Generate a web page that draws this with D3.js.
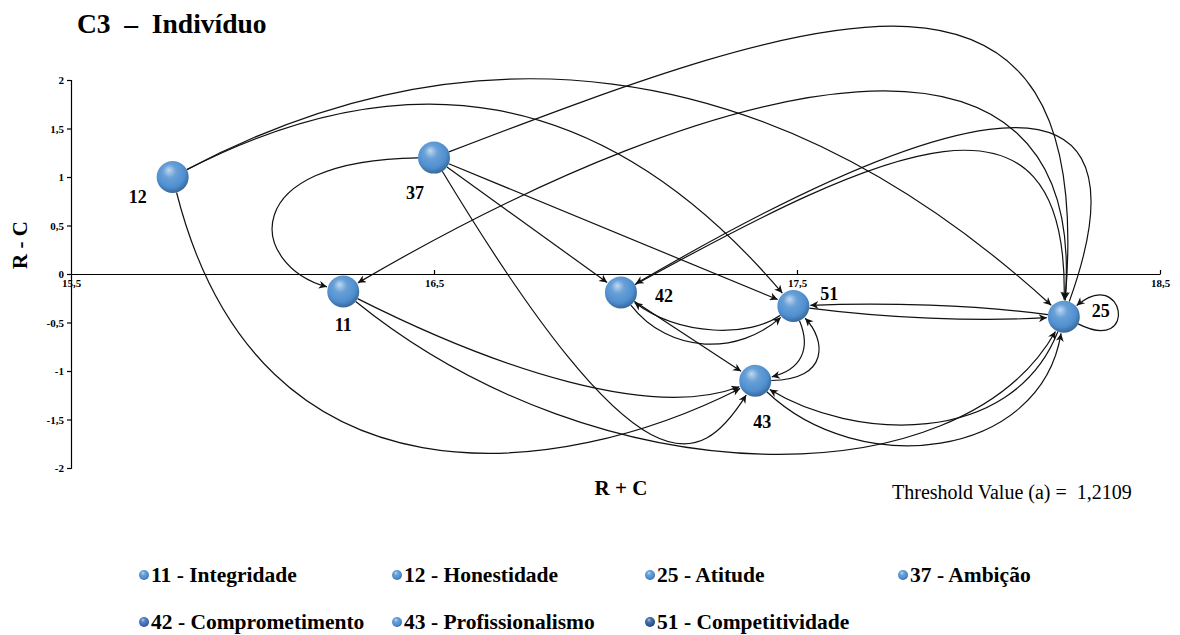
<!DOCTYPE html>
<html>
<head>
<meta charset="utf-8">
<title>C3 - Indivíduo</title>
<script src="https://cdnjs.cloudflare.com/ajax/libs/d3/7.8.5/d3.min.js"></script>
<style>
  body { margin: 0; background: #fff; }
  svg { font-family: "Liberation Serif", "Times New Roman", serif; }
  .edge { fill: none; stroke: #111; stroke-width: 1.2; }
  .axis path, .axis line { stroke: #000; stroke-width: 1.2; }
  .axis text { font-size: 11px; font-weight: bold; fill: #000; font-family: "Liberation Serif", serif; }
  .node-label { font-size: 18px; font-weight: bold; }
  .legend text { font-size: 21.5px; font-weight: bold; }
</style>
</head>
<body>
<div id="chart"></div>
<script>
// node data (R + C, R - C)
const nodeIds = ["11", "12", "25", "37", "42", "43", "51"];
const nodeNames = ["Integridade", "Honestidade", "Atitude", "Ambição", "Comprometimento", "Profissionalismo", "Competitividade"];
const rPlusC = [16.25, 15.78, 18.235, 16.50, 17.015, 17.385, 17.49];
const rMinusC = [-0.18, 1.00, -0.44, 1.20, -0.19, -1.10, -0.33];
const xTicks = [15.5, 16.5, 17.5, 18.5];
const yTicks = [-2, -1.5, -1, -0.5, 0, 0.5, 1, 1.5, 2];
const threshold = "1,2109";

// influence arrows: from -> to, bezier controls in data units (null = straight)
const edgeFrom = ["12", "12", "12", "37", "37", "37", "37", "37", "11", "11", "25", "42", "25", "42", "42", "51", "51", "43", "25", "51", "43", "25", "25"];
const edgeTo   = ["25", "51", "43", "11", "42", "51", "43", "25", "43", "25", "11", "25", "42", "43", "51", "42", "43", "51", "51", "25", "25", "43", "25"];
const edgeCtrl = [
  [16.57, 2.56, 17.40, 2.41],
  [16.41, 2.21, 16.96, 2.00],
  [16.02, -2.54, 16.85, -2.12],
  [15.95, 1.175, 15.99, 0.093],
  null,
  null,
  [17.07, -2.33, 17.23, -2.02],
  [17.56, 2.72, 18.33, 3.75],
  [16.68, -0.99, 17.10, -1.505],
  [16.96, -2.33, 17.95, -2.33],
  [18.31, 3.03, 17.29, 2.10],
  [17.73, 1.28, 18.25, 2.21],
  [18.53, 2.62, 17.78, 1.485],
  null,
  [17.15, -0.835, 17.34, -0.835],
  [17.37, -0.65, 17.18, -0.65],
  [17.54, -0.78, 17.51, -0.99],
  [17.59, -1.09, 17.58, -0.68],
  [17.99, -0.32, 17.74, -0.29],
  [17.74, -0.45, 17.99, -0.495],
  [17.67, -2.12, 18.17, -1.92],
  [18.09, -1.81, 17.65, -1.71],
  [18.445, -0.835, 18.40, 0.093]
];

// label offsets around each node (px)
const labelOffset = { "11": [0, 34], "12": [-35, 20], "25": [37, -6], "37": [-19, 35], "42": [43, 4], "43": [7, 41], "51": [36, -12] };
const legendTint = { "42": "#3c6cb8", "51": "#2b5a96" };

const W = 1180, H = 635;
const R = 16;

const svg = d3.select("#chart").append("svg")
  .attr("width", W).attr("height", H);

const defs = svg.append("defs");

function sphereGradient(id, base) {
  const g = defs.append("radialGradient").attr("id", id)
    .attr("cx", "45%").attr("cy", "40%").attr("r", "60%")
    .attr("fx", "38%").attr("fy", "28%");
  const c = d3.color(base);
  g.append("stop").attr("offset", "0%").attr("stop-color", d3.interpolateRgb(base, "#fff")(0.65));
  g.append("stop").attr("offset", "35%").attr("stop-color", d3.interpolateRgb(base, "#fff")(0.15));
  g.append("stop").attr("offset", "75%").attr("stop-color", base);
  g.append("stop").attr("offset", "100%").attr("stop-color", c.darker(0.9));
}
sphereGradient("sphere", "#4f8fd0");
sphereGradient("sphere42", legendTint["42"]);
sphereGradient("sphere51", legendTint["51"]);

defs.append("marker")
  .attr("id", "arrow")
  .attr("viewBox", "0 0 10 10")
  .attr("refX", 10).attr("refY", 5)
  .attr("markerUnits", "userSpaceOnUse")
  .attr("markerWidth", 11).attr("markerHeight", 8)
  .attr("orient", "auto")
  .append("path")
  .attr("d", "M0,0 L10,5 L0,10 L3,5 z")
  .attr("fill", "#111");

// scales
const x = d3.scaleLinear().domain([15.5, 18.5]).range([71, 1160]);
const y = d3.scaleLinear().domain([-2, 2]).range([468, 80]);

// title
svg.append("text")
  .attr("x", 77).attr("y", 33)
  .attr("font-size", 27.5).attr("font-weight", "bold")
  .attr("xml:space", "preserve")
  .text("C3  –  Indivíduo");

// axes
svg.append("g")
  .attr("class", "axis")
  .attr("transform", `translate(${x(15.5)},0)`)
  .call(d3.axisLeft(y).tickValues(yTicks).tickSizeInner(4).tickSizeOuter(4)
    .tickFormat(d => String(d).replace(".", ",")));

svg.append("g")
  .attr("class", "axis")
  .attr("transform", `translate(0,${y(0)})`)
  .call(d3.axisBottom(x).tickValues(xTicks).tickSizeInner(-4).tickSizeOuter(0)
    .tickFormat(d => String(d).replace(".", ",")))
  .call(g => g.selectAll(".tick text").attr("y", 5).attr("dy", "0.71em"))
  .call(g => g.select(".tick:first-of-type line").remove());

// axis titles
svg.append("text")
  .attr("transform", "translate(27,245) rotate(-90)")
  .attr("text-anchor", "middle")
  .attr("font-size", 21).attr("font-weight", "bold")
  .text("R - C");

svg.append("text")
  .attr("x", 621).attr("y", 495)
  .attr("text-anchor", "middle")
  .attr("font-size", 21).attr("font-weight", "bold")
  .text("R + C");

svg.append("text")
  .attr("x", 892).attr("y", 499)
  .attr("font-size", 20)
  .attr("xml:space", "preserve")
  .text("Threshold Value (a) =  " + threshold);

// node positions
const pos = {};
nodeIds.forEach((id, i) => { pos[id] = [x(rPlusC[i]), y(rMinusC[i])]; });

function unit(a, b) {
  const dx = b[0] - a[0], dy = b[1] - a[1];
  const l = Math.hypot(dx, dy) || 1;
  return [dx / l, dy / l];
}

const edges = edgeFrom.map((f, i) => ({ from: f, to: edgeTo[i], ctrl: edgeCtrl[i] }));

svg.append("g").selectAll("path")
  .data(edges)
  .join("path")
  .attr("class", "edge")
  .attr("marker-end", "url(#arrow)")
  .attr("d", d => {
    const p0 = pos[d.from], p3 = pos[d.to];
    if (!d.ctrl) {
      const u = unit(p0, p3);
      return `M${p0[0] + u[0] * R},${p0[1] + u[1] * R}L${p3[0] - u[0] * (R + 1)},${p3[1] - u[1] * (R + 1)}`;
    }
    const c1 = [x(d.ctrl[0]), y(d.ctrl[1])];
    const c2 = [x(d.ctrl[2]), y(d.ctrl[3])];
    const u0 = unit(p0, c1), u1 = unit(c2, p3);
    const s = [p0[0] + u0[0] * R, p0[1] + u0[1] * R];
    const e = [p3[0] - u1[0] * (R + 1), p3[1] - u1[1] * (R + 1)];
    return `M${s}C${c1} ${c2} ${e}`;
  });

// nodes
const node = svg.append("g").selectAll("g")
  .data(nodeIds)
  .join("g")
  .attr("transform", d => `translate(${pos[d]})`);

node.append("circle")
  .attr("r", R)
  .attr("fill", "url(#sphere)");

node.append("text")
  .attr("class", "node-label")
  .attr("x", d => labelOffset[d][0])
  .attr("y", d => labelOffset[d][1])
  .attr("text-anchor", "middle")
  .attr("dominant-baseline", "central")
  .text(d => d);

// legend
const legend = svg.append("g").attr("class", "legend");
const item = legend.selectAll("g")
  .data(nodeIds)
  .join("g")
  .attr("transform", (d, i) => `translate(${144 + (i % 4) * 253},${575 + Math.floor(i / 4) * 47})`);

item.append("circle")
  .attr("r", 5)
  .attr("fill", d => legendTint[d] ? `url(#sphere${d})` : "url(#sphere)");

item.append("text")
  .attr("x", 7)
  .attr("dominant-baseline", "central")
  .text((d, i) => `${d} - ${nodeNames[i]}`);
</script>
</body>
</html>
